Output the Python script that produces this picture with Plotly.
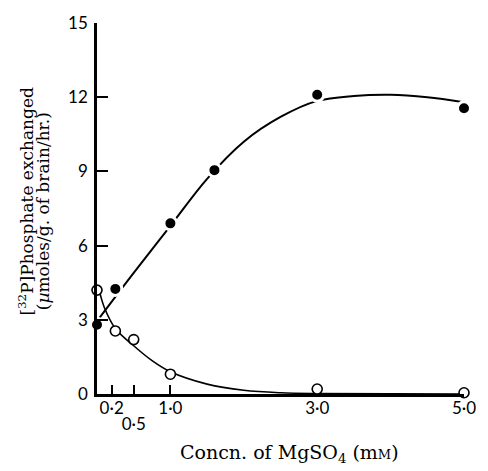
import plotly.graph_objects as go

# Measured points: [32P]phosphate exchanged vs MgSO4 concentration (mM)
filled_x = [0.0, 0.25, 1.0, 1.6, 3.0, 5.0]
filled_y = [2.8, 4.25, 6.9, 9.05, 12.1, 11.55]
open_x = [0.0, 0.25, 0.5, 1.0, 3.0, 5.0]
open_y = [4.2, 2.55, 2.2, 0.8, 0.2, 0.05]

# Hand-drawn smooth curves (guide points along each fitted line)
filled_curve_x = [0.0, 0.5, 1.0, 1.5, 2.0, 2.5, 3.0, 3.5, 4.0, 4.5, 5.0]
filled_curve_y = [2.95, 4.9, 6.8, 8.7, 10.2, 11.2, 11.85, 12.05, 12.1, 12.0, 11.8]
open_curve_x = [0.03, 0.1, 0.25, 0.5, 0.75, 1.0, 1.5, 2.0, 2.5, 3.0, 5.0]
open_curve_y = [4.2, 3.5, 2.65, 1.95, 1.35, 0.9, 0.4, 0.15, 0.05, 0.02, 0.0]

# Axis ticks
y_ticks = [0, 3, 6, 9, 12, 15]
x_tick_marks = [0.2, 0.5, 1.0]
x_label_vals = [0.2, 1.0, 3.0, 5.0]
x_label_text = ["0·2", "1·0", "3·0", "5·0"]
x_low_vals = [0.5]
x_low_text = ["0·5"]

tick_font = dict(family="Lato", size=17, color="black")
title_font = dict(family="DejaVu Serif", size=17, color="black")

fig = go.Figure()

fig.add_trace(go.Scatter(
    x=filled_curve_x, y=filled_curve_y, mode="lines",
    line=dict(color="black", width=2, shape="spline", smoothing=1.0),
    cliponaxis=False, hoverinfo="skip", showlegend=False))
fig.add_trace(go.Scatter(
    x=open_curve_x, y=open_curve_y, mode="lines",
    line=dict(color="black", width=1.6, shape="spline", smoothing=1.0),
    cliponaxis=False, hoverinfo="skip", showlegend=False))

fig.add_trace(go.Scatter(
    x=open_x, y=open_y, mode="markers",
    marker=dict(symbol="circle", size=10, color="white",
                line=dict(color="black", width=1.6)),
    cliponaxis=False, showlegend=False))
fig.add_trace(go.Scatter(
    x=filled_x, y=filled_y, mode="markers",
    marker=dict(symbol="circle", size=13, color="black",
                line=dict(color="white", width=3)),
    cliponaxis=False, showlegend=False))

# empty traces so the extra label axes get drawn
fig.add_trace(go.Scatter(x=[3.0], y=[None], xaxis="x2", showlegend=False, hoverinfo="skip"))
fig.add_trace(go.Scatter(x=[0.5], y=[None], xaxis="x3", showlegend=False, hoverinfo="skip"))

x_range = [0, 5.0]

fig.update_layout(
    width=488, height=471,
    margin=dict(l=97, r=16, t=18, b=77),
    paper_bgcolor="white", plot_bgcolor="white",
    xaxis=dict(
        range=x_range, showgrid=False, zeroline=False,
        showline=True, linecolor="black", linewidth=3,
        ticks="inside", ticklen=9, tickwidth=2, tickcolor="black",
        tickvals=x_tick_marks, showticklabels=False,
    ),
    xaxis2=dict(
        range=x_range, overlaying="x", anchor="y", side="bottom",
        showgrid=False, zeroline=False, showline=False, ticks="",
        tickvals=x_label_vals, ticktext=x_label_text,
        tickfont=tick_font, ticklabelstandoff=2,
    ),
    xaxis3=dict(
        range=x_range, overlaying="x", anchor="y", side="bottom",
        showgrid=False, zeroline=False, showline=False, ticks="",
        tickvals=x_low_vals, ticktext=x_low_text,
        tickfont=tick_font, ticklabelstandoff=18,
    ),
    yaxis=dict(
        range=[0, 15], showgrid=False, zeroline=False,
        showline=True, linecolor="black", linewidth=2.5,
        ticks="inside", ticklen=11, tickwidth=2, tickcolor="black",
        tickvals=y_ticks, ticktext=[str(v) for v in y_ticks],
        tickfont=tick_font, ticklabelstandoff=3,
    ),
)

fig.add_annotation(
    text="[<sup>32</sup>P]Phosphate exchanged",
    xref="paper", yref="paper", x=-0.193, y=0.519,
    textangle=-90, showarrow=False, font=title_font,
    xanchor="center", yanchor="middle")
fig.add_annotation(
    text="(<i>µ</i>moles/g. of brain/hr.)",
    xref="paper", yref="paper", x=-0.145, y=0.492,
    textangle=-90, showarrow=False, font=title_font,
    xanchor="center", yanchor="middle")
fig.add_annotation(
    text="Concn. of MgSO<sub>4</sub> (m<span style='font-size:13px'>M</span>)",
    xref="paper", yref="paper", x=0.525, y=-0.16,
    showarrow=False, font=dict(family="DejaVu Serif", size=19, color="black"),
    xanchor="center", yanchor="middle")

fig.write_html("out.html")
